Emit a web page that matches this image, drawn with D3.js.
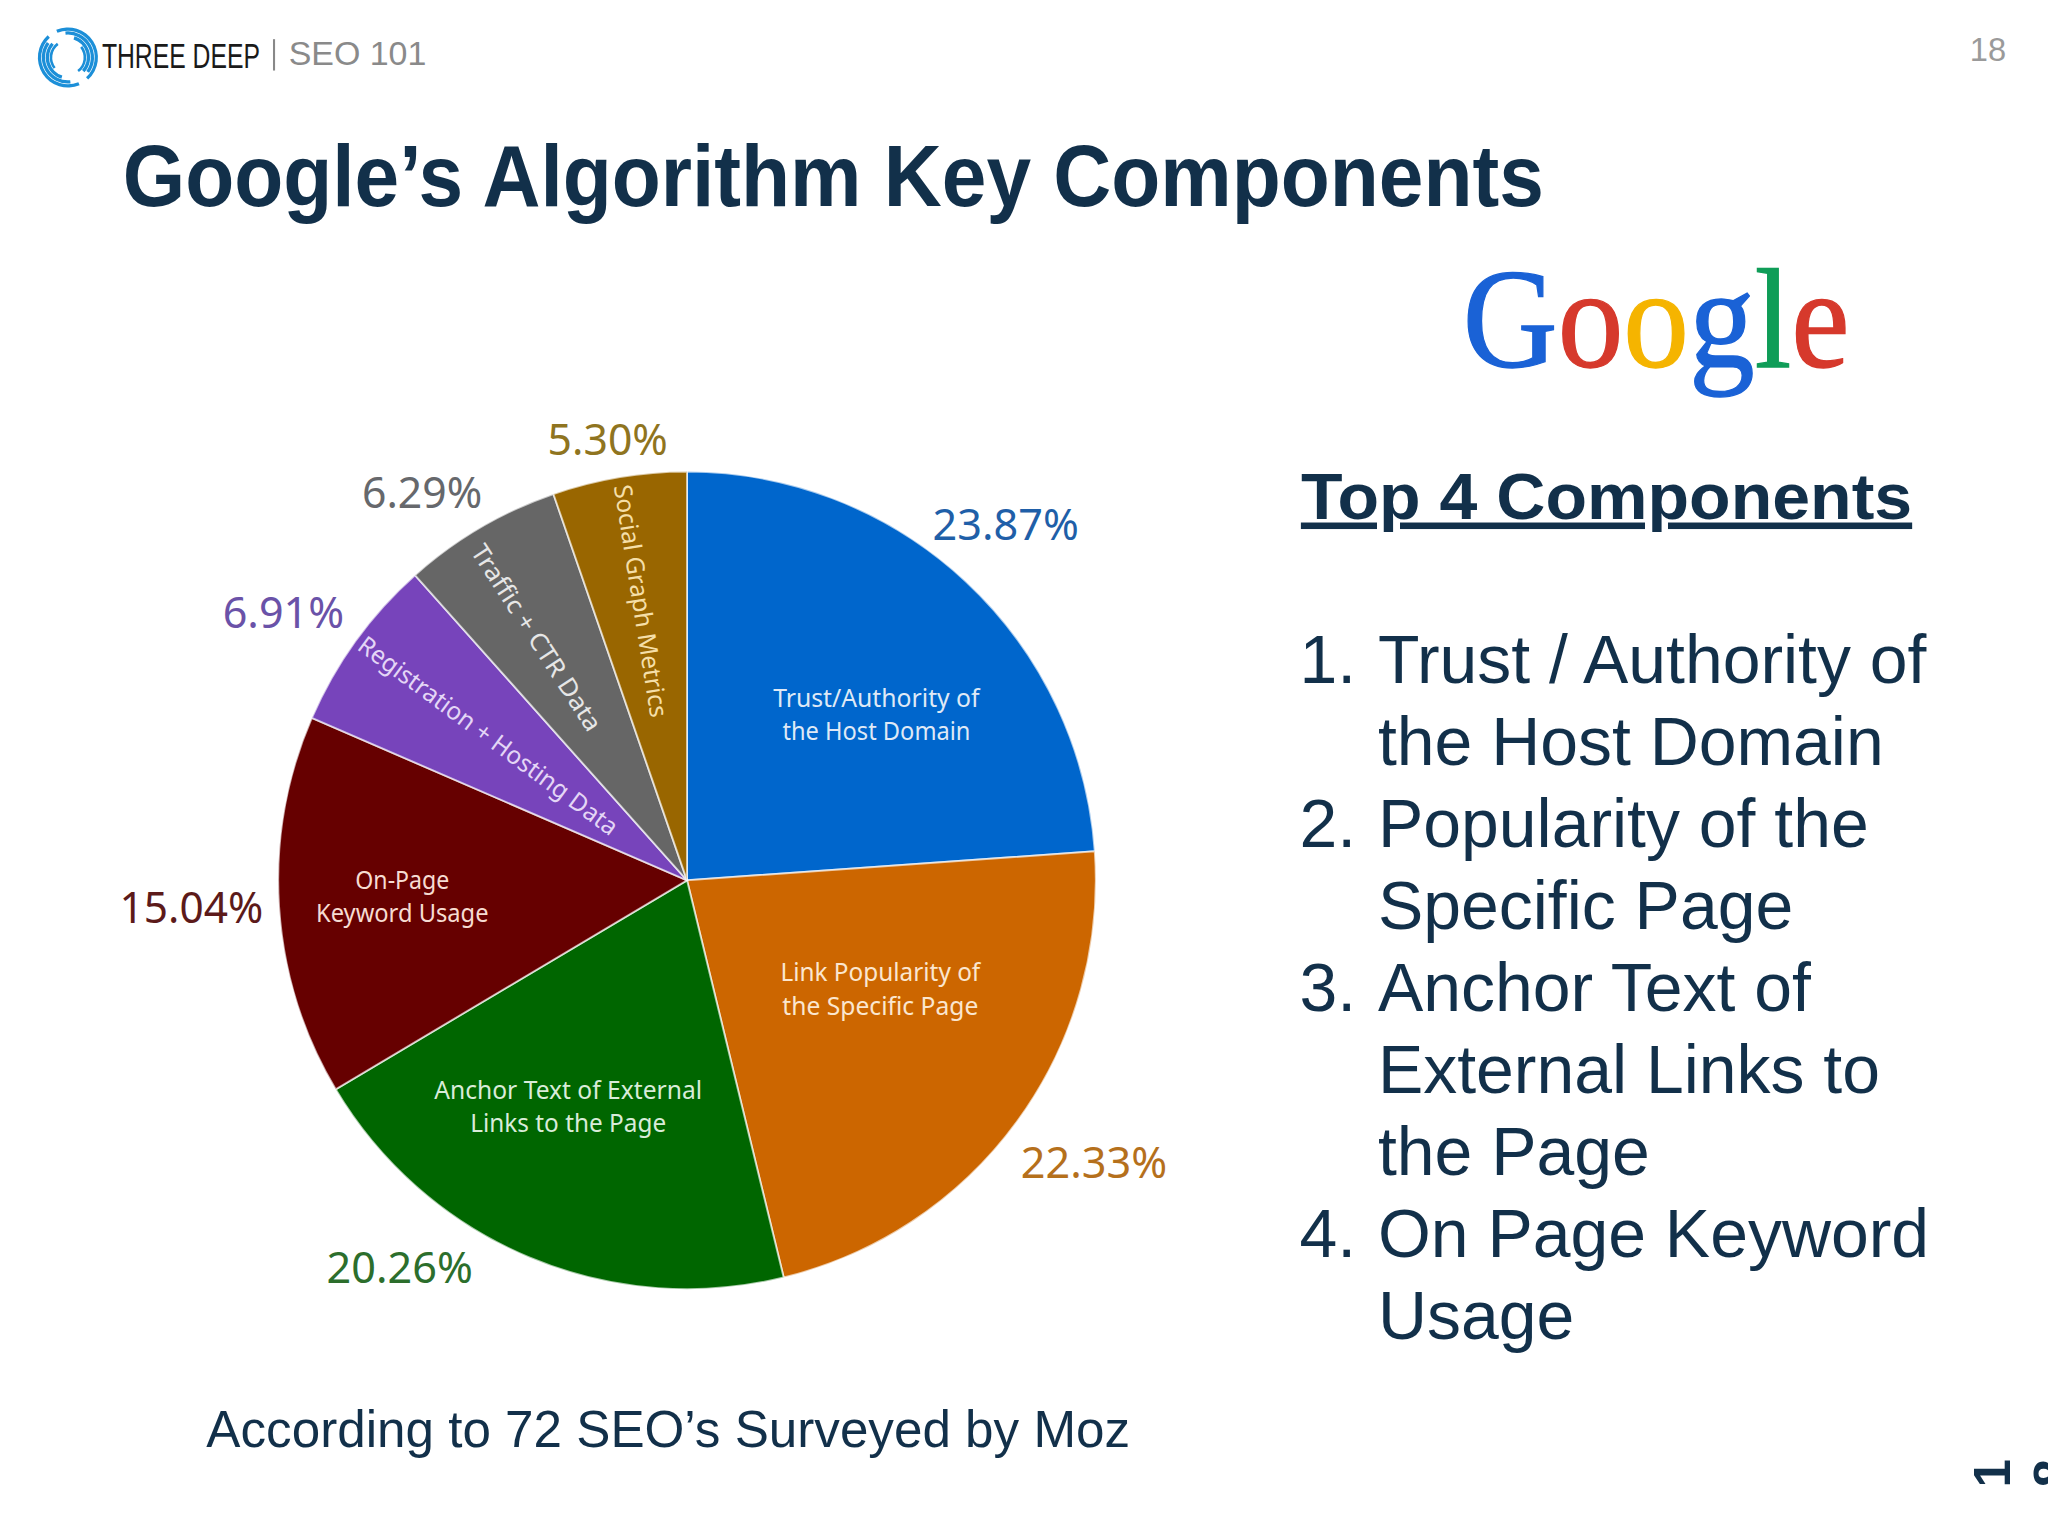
<!DOCTYPE html>
<html>
<head>
<meta charset="utf-8">
<script src="https://cdn.jsdelivr.net/npm/d3@7"></script>
<style>
  html, body { margin: 0; padding: 0; background: #fff; }
  svg { display: block; }
</style>
</head>
<body>
<div id="chart"></div>
<script>
// chart values, clockwise from 12 o'clock
const categories = [
  ['Trust/Authority of', 'the Host Domain'],
  ['Link Popularity of', 'the Specific Page'],
  ['Anchor Text of External', 'Links to the Page'],
  ['On-Page', 'Keyword Usage'],
  ['Registration + Hosting Data'],
  ['Traffic + CTR Data'],
  ['Social Graph Metrics']
];
const values = [23.87, 22.33, 20.26, 15.04, 6.91, 6.29, 5.30];
const sliceColors = ['#0066cc', '#cc6600', '#006600', '#660000', '#7744bb', '#666666', '#996600'];
const pctColors = ['#1f5fa8', '#b5701c', '#2c6e2c', '#5c1a1a', '#6a52a8', '#66686c', '#8f7420'];
const textColors = ['#dfe9f6', '#fbe6cf', '#d9ecd9', '#f6dcd2', '#e4d6f6', '#e6e6e6', '#f5dfa8'];

const listNumbers = ['1.', '', '2.', '', '3.', '', '', '4.', ''];
const listLines = [
  'Trust / Authority of', 'the Host Domain',
  'Popularity of the', 'Specific Page',
  'Anchor Text of', 'External Links to', 'the Page',
  'On Page Keyword', 'Usage'
];
const googleLetters = ['G', 'o', 'o', 'g', 'l', 'e'];
const googleColors = ['#1a62d6', '#d6392c', '#f5b400', '#1a62d6', '#0f9d58', '#d6392c'];

const navy = '#12304a';
const sans = '"Liberation Sans", Arial, sans-serif';
const pieFont = '"Noto Sans", "DejaVu Sans", sans-serif';

const svg = d3.select('#chart').append('svg')
  .attr('width', 2048)
  .attr('height', 1536)
  .attr('viewBox', '0 0 1568 1176');

svg.append('rect').attr('width', 1568).attr('height', 1176).attr('fill', '#fff');

// header
const logo = svg.append('g').attr('transform', 'translate(52,44)');
const swirl = d3.arc();
[[20.5, 23, -0.4, 2.4], [17.5, 20, -0.1, 2.2], [14.5, 17, 0.3, 2.3], [12, 14, 0.9, 2.5]].forEach(a => {
  [0, Math.PI].forEach(turn => {
    logo.append('path')
      .attr('d', swirl({ innerRadius: a[0], outerRadius: a[1], startAngle: a[2] + turn, endAngle: a[3] + turn }))
      .attr('fill', '#1c8fd8');
  });
});

// squeezed by hand, no narrow face is installed
svg.append('text')
  .attr('transform', 'translate(78,52) scale(0.715,1)')
  .attr('font-family', sans)
  .attr('font-size', 26.5)
  .attr('fill', '#1a1a1a')
  .text('THREE DEEP');
svg.append('rect').attr('x', 209).attr('y', 30).attr('width', 1.6).attr('height', 24).attr('fill', '#888');
svg.append('text')
  .attr('x', 221).attr('y', 50)
  .attr('font-family', sans).attr('font-size', 26).attr('fill', '#8a8a8a')
  .text('SEO 101');
svg.append('text')
  .attr('x', 1522).attr('y', 47).attr('text-anchor', 'middle')
  .attr('font-family', sans).attr('font-size', 25).attr('fill', '#9a9a9a')
  .text('18');

svg.append('text')
  .attr('x', 94).attr('y', 158)
  .attr('textLength', 1088).attr('lengthAdjust', 'spacingAndGlyphs')
  .attr('font-family', sans).attr('font-weight', 'bold').attr('font-size', 66)
  .attr('fill', navy)
  .text('Google\u2019s Algorithm Key Components');

// pie
const pieX = 526, pieY = 674, pieR = 313;
const pieGen = d3.pie().sort(null).value(d => d);
const arcGen = d3.arc().innerRadius(0).outerRadius(pieR);
const arcs = pieGen(values);
const pieG = svg.append('g').attr('transform', `translate(${pieX},${pieY})`);

pieG.selectAll('path.slice')
  .data(arcs)
  .join('path')
  .attr('class', 'slice')
  .attr('d', arcGen)
  .attr('fill', (d, i) => sliceColors[i])
  .attr('stroke', '#fff')
  .attr('stroke-opacity', 0.65)
  .attr('stroke-width', 1.5);

// percent labels: polar placement, angle in degrees from 12 o'clock
const pctPolar = [[41.8, 366, 112], [124.7, 379, 112], [216.6, 369, 112], [266.9, 380, 110],
  [303.6, 371, 93], [325.7, 360, 92], [349.8, 343, 92]];
pieG.selectAll('text.pct')
  .data(values)
  .join('text')
  .attr('class', 'pct')
  .attr('x', (d, i) => Math.sin(pctPolar[i][0] * Math.PI / 180) * pctPolar[i][1])
  .attr('y', (d, i) => -Math.cos(pctPolar[i][0] * Math.PI / 180) * pctPolar[i][1] + 12)
  .attr('text-anchor', 'middle')
  .attr('font-family', pieFont)
  .attr('font-size', 34)
  .attr('textLength', (d, i) => pctPolar[i][2])
  .attr('lengthAdjust', 'spacingAndGlyphs')
  .attr('fill', (d, i) => pctColors[i])
  .text(d => d.toFixed(2) + '%');

// slice labels: centre offset from the pie centre, rotation, width of each line
const labelPlace = [
  { dx: 145, dy: -127, rot: 0, w: [158, 144] },
  { dx: 148, dy: 83, rot: 0, w: [153, 150] },
  { dx: -91, dy: 173, rot: 0, w: [205, 150] },
  { dx: -218, dy: 12, rot: 0, w: [72, 132] },
  { dx: -152, dy: -111, rot: 36.5, w: [242] },
  { dx: -115, dy: -186, rot: 57, w: [166] },
  { dx: -35, dy: -214, rot: 81, w: [180] }
];
categories.forEach((lines, i) => {
  const p = labelPlace[i];
  const g = pieG.append('g').attr('transform', `translate(${p.dx},${p.dy}) rotate(${p.rot})`);
  lines.forEach((line, j) => {
    g.append('text')
      .attr('y', (j - (lines.length - 1) / 2) * 25.5 + 7)
      .attr('text-anchor', 'middle')
      .attr('font-family', pieFont)
      .attr('font-size', 19)
      .attr('textLength', p.w[j])
      .attr('lengthAdjust', 'spacingAndGlyphs')
      .attr('fill', textColors[i])
      .text(line);
  });
});

// google logo
const googleText = svg.append('text')
  .attr('transform', 'translate(1120,281) scale(0.931,1)')
  .attr('font-family', '"Liberation Serif", serif')
  .attr('font-size', 108)
  .attr('stroke-width', 1);
googleLetters.forEach((c, i) => {
  googleText.append('tspan').attr('fill', googleColors[i]).attr('stroke', googleColors[i]).text(c);
});

// right column
svg.append('text')
  .attr('x', 996).attr('y', 397)
  .attr('textLength', 468).attr('lengthAdjust', 'spacingAndGlyphs')
  .attr('font-family', sans).attr('font-weight', 'bold').attr('font-size', 50)
  .attr('text-decoration', 'underline')
  .attr('fill', navy)
  .text('Top 4 Components');

const lineY = d3.scaleLinear().domain([0, 8]).range([523, 1025]);
listLines.forEach((line, i) => {
  if (listNumbers[i]) {
    svg.append('text')
      .attr('x', 995).attr('y', lineY(i))
      .attr('font-family', sans).attr('font-size', 52).attr('fill', navy)
      .text(listNumbers[i]);
  }
  svg.append('text')
    .attr('x', 1055).attr('y', lineY(i))
    .attr('font-family', sans).attr('font-size', 52).attr('fill', navy)
    .text(line);
});

svg.append('text')
  .attr('x', 158).attr('y', 1108)
  .attr('font-family', sans).attr('font-size', 39.2).attr('fill', navy)
  .text('According to 72 SEO\u2019s Surveyed by Moz');

// stray rotated slide number, cut off at the page edge
[['1', 1539], ['8', 1585]].forEach(d => {
  svg.append('text')
    .attr('transform', `translate(${d[1]},1128) rotate(-90)`)
    .attr('text-anchor', 'middle')
    .attr('font-family', sans).attr('font-weight', 'bold').attr('font-size', 39).attr('fill', navy)
    .text(d[0]);
});
</script>
</body>
</html>
